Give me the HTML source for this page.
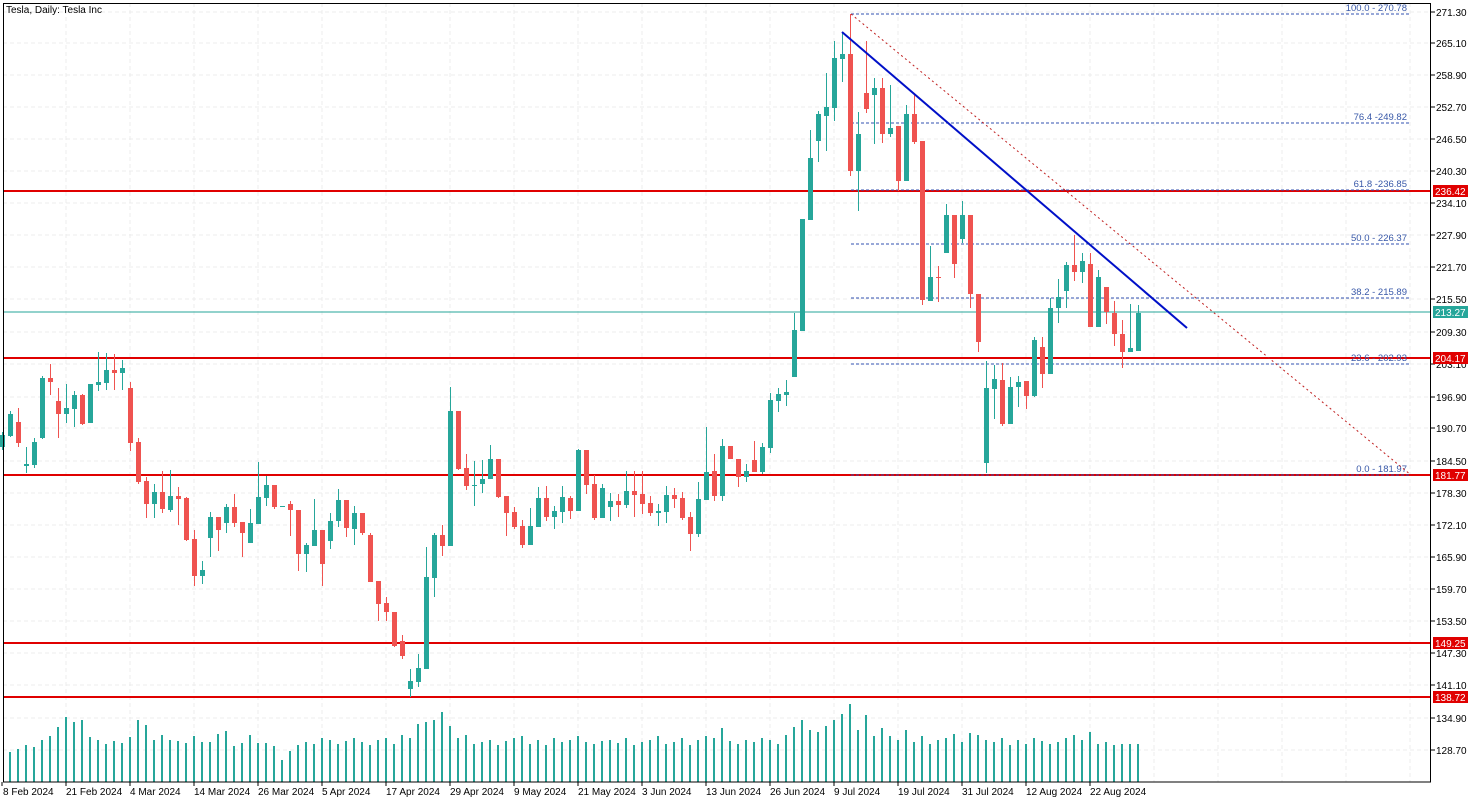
<!DOCTYPE html>
<html><head><meta charset="utf-8"><style>
html,body{margin:0;padding:0;background:#fff;}
svg{display:block;font-family:"Liberation Sans",sans-serif;}
</style></head><body>
<svg id="c" width="1479" height="803" xmlns="http://www.w3.org/2000/svg"></svg>
<script>
const D=[[435,447,432,450,1],[414,436,411,437,1],[422,443,408,447,0],[464,466,447,473,1],[442,465,438,468,1],[378,438,376,439,1],[378,382,364,395,0],[401,414,388,438,0],[408,414,384,423,1],[395,409,391,427,1],
[395,424,394,425,0],[384,423,384,423,1],[382,385,352,391,1],[370,383,353,390,1],[370,373,354,390,0],[368,373,360,390,1],[388,443,382,451,0],[442,482,438,484,0],[481,504,477,518,0],[492,504,484,518,1],
[492,509,471,513,0],[496,510,470,512,1],[496,499,487,525,0],[498,540,497,541,0],[539,576,530,586,0],[570,576,561,584,1],[517,538,512,557,1],[517,530,517,551,0],[507,523,504,533,1],[507,523,494,527,0],
[522,533,522,557,0],[523,543,509,543,1],[497,524,462,524,1],[485,498,476,506,1],[485,507,485,509,0],[506,507,506,507,1],[504,510,501,536,0],[510,554,510,571,0],[545,554,543,572,1],[530,546,499,546,1],
[530,564,530,586,0],[521,541,513,549,1],[500,521,489,527,1],[500,528,500,537,0],[513,529,506,545,1],[513,533,513,535,0],[535,582,533,582,0],[581,604,581,621,0],[603,612,597,621,0],[612,646,612,647,0],
[641,656,635,659,0],[681,689,669,697,1],[668,682,654,687,1],[577,669,547,669,1],[535,578,533,597,1],[535,546,525,556,0],[411,546,387,546,1],[411,469,411,470,0],[468,486,454,490,0],[485,486,461,506,1],
[479,484,460,493,1],[459,479,445,479,1],[459,497,459,498,0],[496,513,496,536,0],[512,527,507,529,0],[526,545,520,548,0],[526,545,508,545,1],[498,527,487,527,1],[498,517,486,521,0],[511,517,506,529,1],
[497,512,486,523,1],[498,511,496,519,0],[450,511,449,511,1],[450,485,450,494,0],[484,518,475,520,0],[488,518,484,518,1],[501,507,493,521,1],[501,505,494,517,0],[491,505,471,508,1],[491,495,471,517,0],
[494,504,471,514,0],[503,513,496,516,0],[511,513,504,526,1],[495,512,486,523,1],[495,499,488,508,0],[498,518,492,520,0],[517,534,512,551,0],[499,534,482,537,1],[472,500,427,500,1],[471,496,454,501,0],
[446,496,439,501,1],[446,459,446,459,0],[459,477,459,487,0],[471,477,464,482,1],[460,472,441,472,0],[447,472,443,474,1],[400,448,393,453,1],[394,401,388,412,1],[392,395,380,406,1],[330,377,313,377,1],
[219,331,219,331,1],[158,220,130,220,1],[114,141,111,162,1],[107,116,73,151,1],[58,108,41,121,1],[54,59,33,82,1],[54,171,14,176,0],[134,171,112,211,1],[93,109,41,113,0],[88,95,78,144,1],
[88,134,78,143,0],[128,134,85,137,1],[126,181,126,191,0],[114,181,105,181,1],[114,142,94,144,0],[141,300,141,305,0],[277,301,246,301,1],[277,278,266,302,0],[215,253,204,253,1],[215,264,215,278,0],
[215,239,201,243,1],[215,294,215,308,0],[294,342,294,352,0],[388,463,361,473,1],[379,389,365,419,1],[380,424,363,426,0],[387,424,377,424,1],[382,387,376,407,1],[381,396,381,409,0],[340,396,337,397,1],
[347,374,337,388,0],[308,374,298,374,1],[297,308,279,323,1],[265,291,262,308,1],[265,272,235,281,0],[261,272,253,283,1],[264,327,253,327,0],[277,327,270,327,1],[287,312,287,324,0],[313,334,301,346,0],
[334,352,320,368,0],[348,352,304,352,1],[313,351,305,351,1]];
const V=[752,749,745,747,740,736,727,717,722,720,737,740,744,741,743,737,720,725,740,735,740,741,743,736,742,742,734,731,746,743,735,743,743,746,760,751,745,
742,744,738,740,744,741,738,742,745,740,738,744,735,738,724,722,720,712,726,738,735,744,742,740,745,741,738,736,744,740,745,738,742,740,736,742,744,741,740,743,
738,745,742,740,736,744,742,738,745,740,736,738,728,741,744,740,742,738,740,744,735,727,720,730,732,726,720,714,704,730,715,736,728,736,740,730,742,736,744,740,
738,734,742,733,735,740,742,738,745,740,744,738,741,744,742,738,735,740,732,744,742,745,744,744];
const G='#26a69a',R='#ef5350';
let s='';
const ty=[[271.30,12],[265.10,43],[258.90,75],[252.70,107],[246.50,139],[240.30,171],[234.10,203],[227.90,235],[221.70,267],[215.50,299],[209.30,332],[203.10,364],[196.90,397],[190.70,428],[184.50,461],[178.30,493],[172.10,525],[165.90,557],[159.70,589],[153.50,621],[147.30,653],[141.10,685],[134.90,718],[128.70,750]];
for(const [v,y] of ty){s+=`<line x1="3" y1="${y}" x2="1431" y2="${y}" stroke="#ececec" stroke-dasharray="4,3"/>`;
s+=`<line x1="1431" y1="${y}" x2="1435" y2="${y}" stroke="#000"/><text x="1436" y="${y+4}" font-size="10" fill="#000">${v.toFixed(2)}</text>`;}
const dl=['8 Feb 2024','21 Feb 2024','4 Mar 2024','14 Mar 2024','26 Mar 2024','5 Apr 2024','17 Apr 2024','29 Apr 2024','9 May 2024','21 May 2024','3 Jun 2024','13 Jun 2024','26 Jun 2024','9 Jul 2024','19 Jul 2024','31 Jul 2024','12 Aug 2024','22 Aug 2024'];
dl.forEach((t,i)=>{const x=2+64*i;if(i>0)s+=`<line x1="${x}" y1="3" x2="${x}" y2="782" stroke="#ececec" stroke-dasharray="4,3"/>`;
s+=`<line x1="${x}" y1="782" x2="${x}" y2="786" stroke="#000"/><text x="${x+(i?0:1)}" y="795" font-size="10" fill="#000">${t}</text>`;});
for(let x=2+64*18;x<1431;x+=64)s+=`<line x1="${x}" y1="3" x2="${x}" y2="782" stroke="#ececec" stroke-dasharray="4,3"/>`;
for(let i=1;i<D.length;i++){const v=V[i-1]||744;s+=`<rect x="${2+8*i-1}" y="${v}" width="2" height="${782-v}" fill="${G}"/>`;}
for(const [y,t] of [[191,'236.42'],[358,'204.17'],[475,'181.77'],[643,'149.25'],[697,'138.72']]){
s+=`<line x1="3" y1="${y}" x2="1431" y2="${y}" stroke="#e00000" stroke-width="2"/>`;}
s+=`<line x1="3" y1="312" x2="1431" y2="312" stroke="${G}" stroke-width="1"/>`;
const fb=[[14,'100.0 - 270.78'],[123,'76.4 -249.82'],[190,'61.8 -236.85'],[244,'50.0 - 226.37'],[298,'38.2 - 215.89'],[364,'23.6 - 202.93'],[475,'0.0 - 181.97']];
for(const [y,t] of fb){s+=`<line x1="851" y1="${y}" x2="1411" y2="${y}" stroke="#3050b0" stroke-dasharray="3,2"/><text x="1407" y="${y-3}" font-size="9.5" fill="#3858a8" text-anchor="end">${t}</text>`;}
s+=`<line x1="851" y1="14" x2="1411" y2="475" stroke="#c02020" stroke-dasharray="2,3"/>`;
D.forEach((d,i)=>{const x=2+8*i,c=d[4]?G:R;
s+=`<line x1="${x+0.5}" y1="${d[2]}" x2="${x+0.5}" y2="${d[3]}" stroke="${c}"/>`;
s+=`<rect x="${x-2}" y="${d[0]}" width="5" height="${Math.max(1,d[1]-d[0])}" fill="${c}"/>`;});
s+=`<line x1="842" y1="32" x2="1187" y2="328" stroke="#0010c8" stroke-width="2"/>`;
for(const [y,t] of [[191,'236.42'],[358,'204.17'],[475,'181.77'],[643,'149.25'],[697,'138.72']]){
s+=`<rect x="1433" y="${y-6}" width="35" height="12" fill="#e00000"/><text x="1435" y="${y+4}" font-size="10" fill="#fff">${t}</text>`;}
s+=`<rect x="1433" y="306" width="35" height="12" fill="${G}"/><text x="1435" y="316" font-size="10" fill="#fff">213.27</text>`;
s+=`<rect x="3.5" y="3.5" width="1427" height="778.5" fill="none" stroke="#000"/>`;
s+=`<text x="6" y="13" font-size="10" fill="#000">Tesla, Daily:  Tesla Inc</text>`;
document.getElementById('c').innerHTML=s;
</script>
</body></html>
